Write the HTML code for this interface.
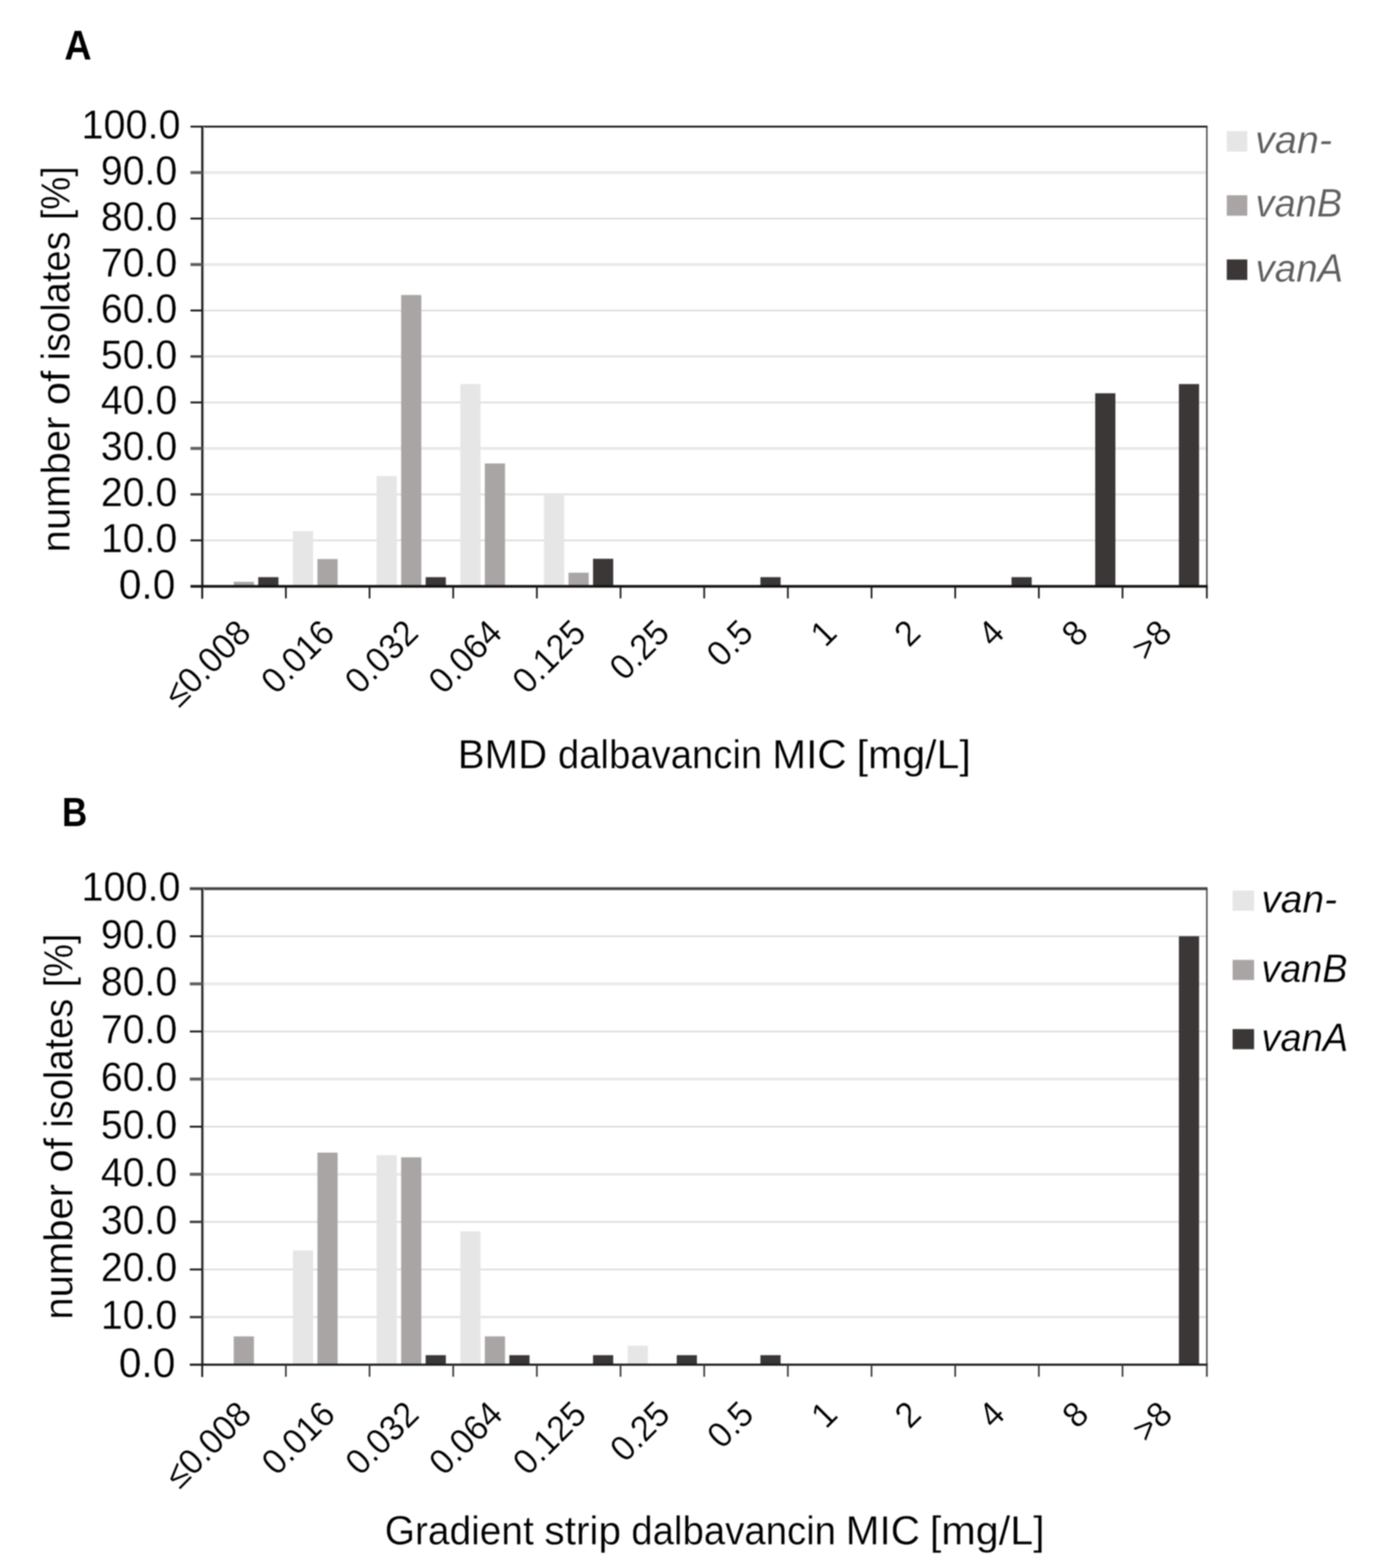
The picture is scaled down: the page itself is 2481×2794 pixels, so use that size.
<!DOCTYPE html>
<html lang="en">
<head>
<meta charset="utf-8">
<title>Dalbavancin MIC distribution</title>
<style>
html, body { margin: 0; padding: 0; background: #ffffff; }
body { width: 2481px; height: 2794px; overflow: hidden; }
svg { display: block; font-family: "Liberation Sans", sans-serif; filter: blur(0.8px); }
text { stroke: #ffffff; stroke-width: 0.4px; }
text.b { stroke: none; }
</style>
</head>
<body>
<svg width="2481" height="2794" viewBox="0 0 2481 2794">
<rect x="0" y="0" width="2481" height="2794" fill="#ffffff"/>
<g id="chart-a">
<text transform="translate(114.72 106) scale(0.9595 1.0455)" font-size="70" fill="#000" font-weight="bold" class="b">A</text>
<rect x="360.4" y="961.58" width="1790.6" height="2.6" fill="#d9d9d9"/>
<rect x="360.4" y="879.16" width="1790.6" height="3.6" fill="#e2e2e2"/>
<rect x="360.4" y="796.54" width="1790.6" height="5.0" fill="#e9e9e9"/>
<rect x="360.4" y="715.82" width="1790.6" height="2.6" fill="#d9d9d9"/>
<rect x="360.4" y="633.4" width="1790.6" height="3.6" fill="#e2e2e2"/>
<rect x="360.4" y="551.98" width="1790.6" height="2.6" fill="#d9d9d9"/>
<rect x="360.4" y="468.86" width="1790.6" height="5.0" fill="#e9e9e9"/>
<rect x="360.4" y="388.14" width="1790.6" height="2.6" fill="#d9d9d9"/>
<rect x="360.4" y="305.02" width="1790.6" height="5.0" fill="#e9e9e9"/>
<rect x="522.07" y="946.5" width="36" height="98.3" fill="#e6e6e6"/>
<rect x="671.24" y="848.19" width="36" height="196.61" fill="#e6e6e6"/>
<rect x="820.41" y="684.35" width="36" height="360.45" fill="#e6e6e6"/>
<rect x="969.58" y="880.96" width="36" height="163.84" fill="#e6e6e6"/>
<rect x="416.6" y="1036.69" width="36" height="8.11" fill="#aaa5a5"/>
<rect x="565.77" y="996.14" width="36" height="48.66" fill="#aaa5a5"/>
<rect x="714.94" y="525.67" width="36" height="519.13" fill="#aaa5a5"/>
<rect x="864.11" y="825.83" width="36" height="218.97" fill="#aaa5a5"/>
<rect x="1013.28" y="1020.47" width="36" height="24.33" fill="#aaa5a5"/>
<rect x="460.3" y="1028.42" width="36" height="16.38" fill="#3b3737"/>
<rect x="758.64" y="1028.42" width="36" height="16.38" fill="#3b3737"/>
<rect x="1056.98" y="995.65" width="36" height="49.15" fill="#3b3737"/>
<rect x="1355.32" y="1028.42" width="36" height="16.38" fill="#3b3737"/>
<rect x="1802.83" y="1028.42" width="36" height="16.38" fill="#3b3737"/>
<rect x="1952" y="700.74" width="36" height="344.06" fill="#3b3737"/>
<rect x="2101.17" y="684.35" width="36" height="360.45" fill="#3b3737"/>
<rect x="339.5" y="223.95" width="1812.75" height="3.3" fill="#181818"/>
<rect x="2149.75" y="225.6" width="2.5" height="819.2" fill="#404040"/>
<rect x="361.9" y="225.6" width="2" height="819.2" fill="#c4c4c4"/>
<rect x="358.7" y="225.6" width="3.4" height="841.2" fill="#141414"/>
<rect x="339.5" y="1042.4" width="1813" height="4.8" fill="#141414"/>
<text transform="translate(211.69 1067.1) scale(1.0382 1.0600)" font-size="70" fill="#000">0.0</text>
<rect x="339.5" y="961.23" width="20.9" height="3.3" fill="#151515"/>
<text transform="translate(179.75 984.18) scale(1.0000 1.0200)" font-size="70" fill="#000">10.0</text>
<rect x="339.5" y="878.86" width="20.9" height="4.2" fill="#3c3c3c"/>
<text transform="translate(179.75 902.26) scale(1.0000 1.0200)" font-size="70" fill="#000">20.0</text>
<rect x="339.5" y="796.34" width="20.9" height="5.4" fill="#606060"/>
<text transform="translate(179.75 820.34) scale(1.0000 1.0200)" font-size="70" fill="#000">30.0</text>
<rect x="339.5" y="715.47" width="20.9" height="3.3" fill="#151515"/>
<text transform="translate(179.75 738.42) scale(1.0000 1.0200)" font-size="70" fill="#000">40.0</text>
<rect x="339.5" y="633.1" width="20.9" height="4.2" fill="#3c3c3c"/>
<text transform="translate(179.75 656.5) scale(1.0000 1.0200)" font-size="70" fill="#000">50.0</text>
<rect x="339.5" y="551.63" width="20.9" height="3.3" fill="#151515"/>
<text transform="translate(179.75 574.58) scale(1.0000 1.0200)" font-size="70" fill="#000">60.0</text>
<rect x="339.5" y="468.66" width="20.9" height="5.4" fill="#606060"/>
<text transform="translate(179.75 492.66) scale(1.0000 1.0200)" font-size="70" fill="#000">70.0</text>
<rect x="339.5" y="387.79" width="20.9" height="3.3" fill="#151515"/>
<text transform="translate(179.75 410.74) scale(1.0000 1.0200)" font-size="70" fill="#000">80.0</text>
<rect x="339.5" y="304.82" width="20.9" height="5.4" fill="#606060"/>
<text transform="translate(179.75 328.82) scale(1.0000 1.0200)" font-size="70" fill="#000">90.0</text>
<text transform="translate(145.21 246.9) scale(1.0078 1.0200)" font-size="70" fill="#000">100.0</text>
<rect x="508.02" y="1044.8" width="3" height="21.5" fill="#181818"/>
<rect x="657.14" y="1044.8" width="3" height="21.5" fill="#181818"/>
<rect x="806.26" y="1044.8" width="3" height="21.5" fill="#181818"/>
<rect x="955.38" y="1044.8" width="3" height="21.5" fill="#181818"/>
<rect x="1104.5" y="1044.8" width="3" height="21.5" fill="#181818"/>
<rect x="1253.62" y="1044.8" width="3" height="21.5" fill="#181818"/>
<rect x="1402.74" y="1044.8" width="3" height="21.5" fill="#181818"/>
<rect x="1551.86" y="1044.8" width="3" height="21.5" fill="#181818"/>
<rect x="1700.98" y="1044.8" width="3" height="21.5" fill="#181818"/>
<rect x="1850.1" y="1044.8" width="3" height="21.5" fill="#181818"/>
<rect x="1999.22" y="1044.8" width="3" height="21.5" fill="#181818"/>
<rect x="2149.5" y="1044.8" width="3" height="21.5" fill="#181818"/>
<text transform="translate(450.51 1131.3) rotate(-45) scale(1 1.04)" font-size="61" text-anchor="end" fill="#000">≤0.008</text>
<text transform="translate(599.72 1131.3) rotate(-45) scale(1 1.04)" font-size="61" text-anchor="end" fill="#000">0.016</text>
<text transform="translate(748.94 1131.3) rotate(-45) scale(1 1.04)" font-size="61" text-anchor="end" fill="#000">0.032</text>
<text transform="translate(898.16 1131.3) rotate(-45) scale(1 1.04)" font-size="61" text-anchor="end" fill="#000">0.064</text>
<text transform="translate(1047.38 1131.3) rotate(-45) scale(1 1.04)" font-size="61" text-anchor="end" fill="#000">0.125</text>
<text transform="translate(1196.59 1131.3) rotate(-45) scale(1 1.04)" font-size="61" text-anchor="end" fill="#000">0.25</text>
<text transform="translate(1345.81 1131.3) rotate(-45) scale(1 1.04)" font-size="61" text-anchor="end" fill="#000">0.5</text>
<text transform="translate(1495.03 1131.3) rotate(-45) scale(1 1.04)" font-size="61" text-anchor="end" fill="#000">1</text>
<text transform="translate(1644.24 1131.3) rotate(-45) scale(1 1.04)" font-size="61" text-anchor="end" fill="#000">2</text>
<text transform="translate(1793.46 1131.3) rotate(-45) scale(1 1.04)" font-size="61" text-anchor="end" fill="#000">4</text>
<text transform="translate(1942.68 1131.3) rotate(-45) scale(1 1.04)" font-size="61" text-anchor="end" fill="#000">8</text>
<text transform="translate(2091.89 1131.3) rotate(-45) scale(1 1.04)" font-size="61" text-anchor="end" fill="#000">&gt;8</text>
<text transform="translate(0 1368.5) scale(1 1.0300)" font-size="70" fill="#000"><tspan x="815.97" textLength="159.21" lengthAdjust="spacingAndGlyphs">BMD</tspan> <tspan x="994.47" textLength="364.03" lengthAdjust="spacingAndGlyphs">dalbavancin</tspan> <tspan x="1376.52" textLength="132.53" lengthAdjust="spacingAndGlyphs">MIC</tspan> <tspan x="1526.77" textLength="203.57" lengthAdjust="spacingAndGlyphs">[mg/L]</tspan></text>
<text transform="translate(124.4 0) rotate(-90) scale(1 1.0400)" font-size="70" fill="#000"><tspan x="-984.23" textLength="241.75" lengthAdjust="spacingAndGlyphs">number</tspan> <tspan x="-721.85" textLength="61.47" lengthAdjust="spacingAndGlyphs">of</tspan> <tspan x="-642.31" textLength="230.03" lengthAdjust="spacingAndGlyphs">isolates</tspan> <tspan x="-392.03" textLength="95.55" lengthAdjust="spacingAndGlyphs">[%]</tspan></text>
<rect x="2186.5" y="233.7" width="36.6" height="36.5" fill="#e6e6e6"/>
<text transform="translate(2237.02 273) scale(1.0080 1.0000)" font-size="70" fill="#5e5e5e" font-style="italic">van-</text>
<rect x="2186.5" y="347.9" width="36.6" height="36.5" fill="#aaa5a5"/>
<text transform="translate(2237.87 386.1) scale(0.9680 1.0000)" font-size="70" fill="#5e5e5e" font-style="italic">vanB</text>
<rect x="2186.5" y="462.3" width="36.6" height="36.5" fill="#3b3737"/>
<text transform="translate(2237.83 501.8) scale(0.9796 1.0000)" font-size="70" fill="#5e5e5e" font-style="italic">vanA</text>
</g>
<g id="chart-b">
<text transform="translate(110.45 1472.4) scale(0.8899 1.0269)" font-size="70" fill="#000" font-weight="bold" class="b">B</text>
<rect x="360.4" y="2345.08" width="1790.6" height="3.6" fill="#e2e2e2"/>
<rect x="360.4" y="2260.76" width="1790.6" height="2.6" fill="#d9d9d9"/>
<rect x="360.4" y="2175.44" width="1790.6" height="3.6" fill="#e2e2e2"/>
<rect x="360.4" y="2089.92" width="1790.6" height="5.0" fill="#e9e9e9"/>
<rect x="360.4" y="2006.3" width="1790.6" height="2.6" fill="#d9d9d9"/>
<rect x="360.4" y="1920.28" width="1790.6" height="5.0" fill="#e9e9e9"/>
<rect x="360.4" y="1836.66" width="1790.6" height="2.6" fill="#d9d9d9"/>
<rect x="360.4" y="1750.64" width="1790.6" height="5.0" fill="#e9e9e9"/>
<rect x="360.4" y="1667.02" width="1790.6" height="2.6" fill="#d9d9d9"/>
<rect x="522.07" y="2228.13" width="36" height="203.57" fill="#e6e6e6"/>
<rect x="671.24" y="2058.49" width="36" height="373.21" fill="#e6e6e6"/>
<rect x="820.41" y="2194.2" width="36" height="237.5" fill="#e6e6e6"/>
<rect x="1118.75" y="2397.77" width="36" height="33.93" fill="#e6e6e6"/>
<rect x="416.6" y="2381.32" width="36" height="50.38" fill="#aaa5a5"/>
<rect x="565.77" y="2053.83" width="36" height="377.87" fill="#aaa5a5"/>
<rect x="714.94" y="2062.22" width="36" height="369.48" fill="#aaa5a5"/>
<rect x="864.11" y="2381.32" width="36" height="50.38" fill="#aaa5a5"/>
<rect x="758.64" y="2414.74" width="36" height="16.96" fill="#3b3737"/>
<rect x="907.81" y="2414.74" width="36" height="16.96" fill="#3b3737"/>
<rect x="1056.98" y="2414.74" width="36" height="16.96" fill="#3b3737"/>
<rect x="1206.15" y="2414.74" width="36" height="16.96" fill="#3b3737"/>
<rect x="1355.32" y="2414.74" width="36" height="16.96" fill="#3b3737"/>
<rect x="2101.17" y="1668.32" width="36" height="763.38" fill="#3b3737"/>
<rect x="338.3" y="1580.9" width="1813.95" height="5.2" fill="#4a4a4a"/>
<rect x="2149.75" y="1583.5" width="2.5" height="848.2" fill="#404040"/>
<rect x="361.9" y="1583.5" width="2" height="848.2" fill="#c4c4c4"/>
<rect x="358.7" y="1583.5" width="3.4" height="870.2" fill="#1c1c1c"/>
<rect x="338.3" y="2429.8" width="1814.2" height="3.8" fill="#1c1c1c"/>
<text transform="translate(211.69 2454) scale(1.0382 1.0600)" font-size="70" fill="#000">0.0</text>
<rect x="338.3" y="2344.78" width="22.1" height="4.2" fill="#3c3c3c"/>
<text transform="translate(179.75 2368.18) scale(1.0000 1.0200)" font-size="70" fill="#000">10.0</text>
<rect x="338.3" y="2260.41" width="22.1" height="3.3" fill="#151515"/>
<text transform="translate(179.75 2283.36) scale(1.0000 1.0200)" font-size="70" fill="#000">20.0</text>
<rect x="338.3" y="2175.14" width="22.1" height="4.2" fill="#3c3c3c"/>
<text transform="translate(179.75 2198.54) scale(1.0000 1.0200)" font-size="70" fill="#000">30.0</text>
<rect x="338.3" y="2089.72" width="22.1" height="5.4" fill="#606060"/>
<text transform="translate(179.75 2113.72) scale(1.0000 1.0200)" font-size="70" fill="#000">40.0</text>
<rect x="338.3" y="2005.95" width="22.1" height="3.3" fill="#151515"/>
<text transform="translate(179.75 2028.9) scale(1.0000 1.0200)" font-size="70" fill="#000">50.0</text>
<rect x="338.3" y="1920.08" width="22.1" height="5.4" fill="#606060"/>
<text transform="translate(179.75 1944.08) scale(1.0000 1.0200)" font-size="70" fill="#000">60.0</text>
<rect x="338.3" y="1836.31" width="22.1" height="3.3" fill="#151515"/>
<text transform="translate(179.75 1859.26) scale(1.0000 1.0200)" font-size="70" fill="#000">70.0</text>
<rect x="338.3" y="1750.44" width="22.1" height="5.4" fill="#606060"/>
<text transform="translate(179.75 1774.44) scale(1.0000 1.0200)" font-size="70" fill="#000">80.0</text>
<rect x="338.3" y="1666.67" width="22.1" height="3.3" fill="#151515"/>
<text transform="translate(179.75 1689.62) scale(1.0000 1.0200)" font-size="70" fill="#000">90.0</text>
<text transform="translate(145.21 1604.8) scale(1.0078 1.0200)" font-size="70" fill="#000">100.0</text>
<rect x="508.02" y="2431.7" width="3" height="21.5" fill="#3a3a3a"/>
<rect x="657.14" y="2431.7" width="3" height="21.5" fill="#3a3a3a"/>
<rect x="806.26" y="2431.7" width="3" height="21.5" fill="#3a3a3a"/>
<rect x="955.38" y="2431.7" width="3" height="21.5" fill="#3a3a3a"/>
<rect x="1104.5" y="2431.7" width="3" height="21.5" fill="#3a3a3a"/>
<rect x="1253.62" y="2431.7" width="3" height="21.5" fill="#3a3a3a"/>
<rect x="1402.74" y="2431.7" width="3" height="21.5" fill="#3a3a3a"/>
<rect x="1551.86" y="2431.7" width="3" height="21.5" fill="#3a3a3a"/>
<rect x="1700.98" y="2431.7" width="3" height="21.5" fill="#3a3a3a"/>
<rect x="1850.1" y="2431.7" width="3" height="21.5" fill="#3a3a3a"/>
<rect x="1999.22" y="2431.7" width="3" height="21.5" fill="#3a3a3a"/>
<rect x="2149.5" y="2431.7" width="3" height="21.5" fill="#3a3a3a"/>
<text transform="translate(451.51 2523.7) rotate(-45) scale(1 1.04)" font-size="61" text-anchor="end" fill="#000">≤0.008</text>
<text transform="translate(600.72 2523.7) rotate(-45) scale(1 1.04)" font-size="61" text-anchor="end" fill="#000">0.016</text>
<text transform="translate(749.94 2523.7) rotate(-45) scale(1 1.04)" font-size="61" text-anchor="end" fill="#000">0.032</text>
<text transform="translate(899.16 2523.7) rotate(-45) scale(1 1.04)" font-size="61" text-anchor="end" fill="#000">0.064</text>
<text transform="translate(1048.38 2523.7) rotate(-45) scale(1 1.04)" font-size="61" text-anchor="end" fill="#000">0.125</text>
<text transform="translate(1197.59 2523.7) rotate(-45) scale(1 1.04)" font-size="61" text-anchor="end" fill="#000">0.25</text>
<text transform="translate(1346.81 2523.7) rotate(-45) scale(1 1.04)" font-size="61" text-anchor="end" fill="#000">0.5</text>
<text transform="translate(1496.03 2523.7) rotate(-45) scale(1 1.04)" font-size="61" text-anchor="end" fill="#000">1</text>
<text transform="translate(1645.24 2523.7) rotate(-45) scale(1 1.04)" font-size="61" text-anchor="end" fill="#000">2</text>
<text transform="translate(1794.46 2523.7) rotate(-45) scale(1 1.04)" font-size="61" text-anchor="end" fill="#000">4</text>
<text transform="translate(1943.68 2523.7) rotate(-45) scale(1 1.04)" font-size="61" text-anchor="end" fill="#000">8</text>
<text transform="translate(2092.89 2523.7) rotate(-45) scale(1 1.04)" font-size="61" text-anchor="end" fill="#000">&gt;8</text>
<text transform="translate(0 2752) scale(1 1.0300)" font-size="70" fill="#000"><tspan x="685.74" textLength="265.64" lengthAdjust="spacingAndGlyphs">Gradient</tspan> <tspan x="970.33" textLength="136.56" lengthAdjust="spacingAndGlyphs">strip</tspan> <tspan x="1125.17" textLength="364.94" lengthAdjust="spacingAndGlyphs">dalbavancin</tspan> <tspan x="1507.22" textLength="132.53" lengthAdjust="spacingAndGlyphs">MIC</tspan> <tspan x="1657.25" textLength="204.62" lengthAdjust="spacingAndGlyphs">[mg/L]</tspan></text>
<text transform="translate(129.2 0) rotate(-90) scale(1 1.0400)" font-size="70" fill="#000"><tspan x="-2351.53" textLength="241.75" lengthAdjust="spacingAndGlyphs">number</tspan> <tspan x="-2089.15" textLength="61.47" lengthAdjust="spacingAndGlyphs">of</tspan> <tspan x="-2009.61" textLength="230.03" lengthAdjust="spacingAndGlyphs">isolates</tspan> <tspan x="-1759.33" textLength="95.55" lengthAdjust="spacingAndGlyphs">[%]</tspan></text>
<rect x="2196.9" y="1586.9" width="38.3" height="35.9" fill="#e6e6e6"/>
<text transform="translate(2248.18 1626.1) scale(0.9912 1.0000)" font-size="70" fill="#000000" font-style="italic">van-</text>
<rect x="2196.9" y="1710.4" width="38.3" height="35.9" fill="#aaa5a5"/>
<text transform="translate(2248.3 1749.6) scale(0.9609 1.0000)" font-size="70" fill="#000000" font-style="italic">vanB</text>
<rect x="2196.9" y="1833.7" width="38.3" height="35.9" fill="#3b3737"/>
<text transform="translate(2248.27 1872.9) scale(0.9697 1.0000)" font-size="70" fill="#000000" font-style="italic">vanA</text>
</g>
</svg>
</body>
</html>
